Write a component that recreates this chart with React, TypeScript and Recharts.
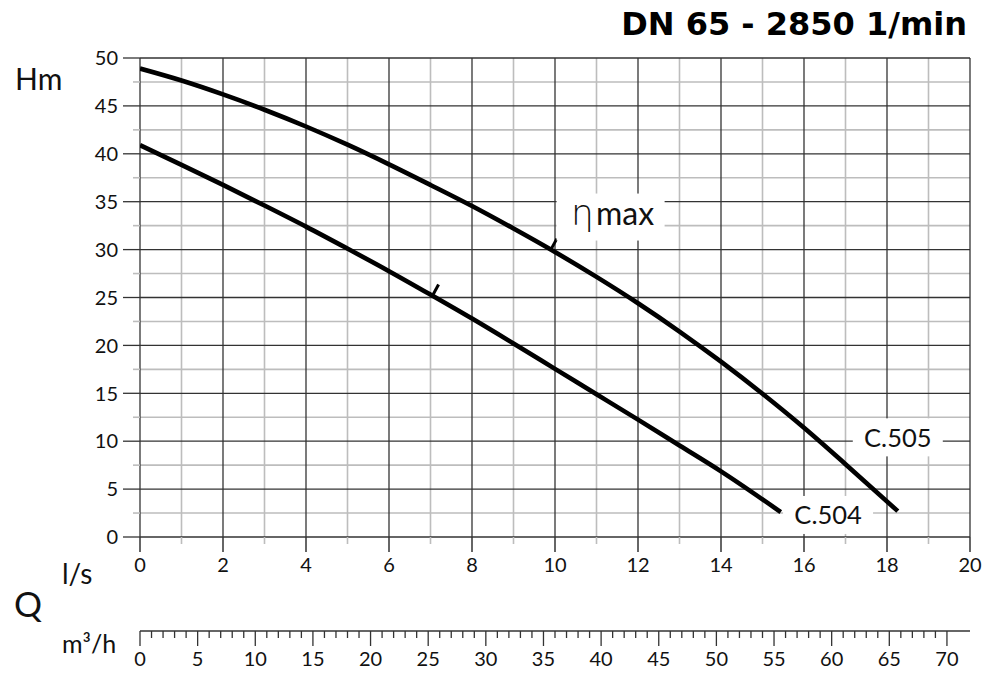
import React from 'react';
import { ComposedChart, Line, Scatter, XAxis, YAxis, CartesianGrid } from 'recharts';

// Q in l/s, H in m
const curveC505 = [
  { q: 0, h: 48.9 },
  { q: 1, h: 47.65 },
  { q: 2, h: 46.2 },
  { q: 3, h: 44.6 },
  { q: 4, h: 42.85 },
  { q: 5, h: 40.95 },
  { q: 6, h: 38.9 },
  { q: 7, h: 36.75 },
  { q: 8, h: 34.55 },
  { q: 9, h: 32.2 },
  { q: 10, h: 29.75 },
  { q: 11, h: 27.15 },
  { q: 12, h: 24.4 },
  { q: 13, h: 21.45 },
  { q: 14, h: 18.3 },
  { q: 15, h: 14.95 },
  { q: 16, h: 11.4 },
  { q: 17, h: 7.6 },
  { q: 18.26, h: 2.7 },
];

const curveC504 = [
  { q: 0, h: 40.9 },
  { q: 1, h: 38.85 },
  { q: 2, h: 36.75 },
  { q: 3, h: 34.6 },
  { q: 4, h: 32.4 },
  { q: 5, h: 30.1 },
  { q: 6, h: 27.75 },
  { q: 7, h: 25.3 },
  { q: 8, h: 22.8 },
  { q: 9, h: 20.2 },
  { q: 10, h: 17.55 },
  { q: 11, h: 14.9 },
  { q: 12, h: 12.25 },
  { q: 13, h: 9.55 },
  { q: 14, h: 6.85 },
  { q: 15.44, h: 2.6 },
];

// best efficiency marks on the two curves
const etaMaxPoints = [
  { q: 9.9, h: 30.0 },
  { q: 7.05, h: 25.2 },
];

// where the curve names sit (centre of their white box)
const curveLabels = [
  { q: 18.26, h: 10.4, name: 'C.505' },
  { q: 16.58, h: 2.3, name: 'C.504' },
  { q: 11.34, h: 33.45, name: 'ηmax' },
];

const headMajor = [0, 5, 10, 15, 20, 25, 30, 35, 40, 45, 50];
const headMinor = [2.5, 7.5, 12.5, 17.5, 22.5, 27.5, 32.5, 37.5, 42.5, 47.5];
const headTicks = [0, 2.5, 5, 7.5, 10, 12.5, 15, 17.5, 20, 22.5, 25, 27.5, 30, 32.5, 35, 37.5, 40, 42.5, 45, 47.5, 50];

const flowMajor = [0, 2, 4, 6, 8, 10, 12, 14, 16, 18, 20];
const flowMinor = [1, 3, 5, 7, 9, 11, 13, 15, 17, 19];
const flowTicks = [0, 1, 2, 3, 4, 5, 6, 7, 8, 9, 10, 11, 12, 13, 14, 15, 16, 17, 18, 19, 20];

// m3/h scale: one tick per m3/h, labelled every 5
const flowM3hTicks = Array.from({ length: 71 }, (_, i) => i);
const LS_TO_M3H = 3.6;

const DARK = '#333';
const LIGHT = '#bdbdbd';
const FONT = 'Lato, "DejaVu Sans", sans-serif';
const TICK_SIZE = 15;
const TICK_MARGIN = 6;

const HeadTick = ({ x, y, payload }: any) => {
  const major = payload.value % 5 === 0;
  const right = x + 5 + 17;
  return (
    <g>
      <line x1={major ? right - 17 : right - 7} x2={right} y1={y} y2={y} stroke={major ? DARK : LIGHT} strokeWidth={major ? 1.3 : 1.6} />
      {major && (
        <text x={x} y={y} dy="0.36em" textAnchor="end" fontSize={20} fontFamily={FONT} fill="#111">
          {payload.value}
        </text>
      )}
    </g>
  );
};

const FlowTick = ({ x, y, payload }: any) => {
  const major = payload.value % 2 === 0;
  const top = y - TICK_MARGIN - TICK_SIZE;
  return (
    <g>
      <line x1={x} x2={x} y1={top} y2={top + (major ? 15 : 7)} stroke={major ? DARK : LIGHT} strokeWidth={major ? 1.5 : 1.6} />
      {major && (
        <text x={x} y={y} dy="0.72em" textAnchor="middle" fontSize={20} fontFamily={FONT} fill="#111">
          {payload.value}
        </text>
      )}
    </g>
  );
};

const FlowM3hTick = ({ x, y, payload }: any) => {
  const major = payload.value % 5 === 0;
  const top = y - TICK_MARGIN - TICK_SIZE;
  return (
    <g>
      <line x1={x} x2={x} y1={top} y2={top + (major ? 15 : 7)} stroke={DARK} strokeWidth={1.3} />
      {major && (
        <text x={x} y={y} dy="0.72em" textAnchor="middle" fontSize={20} fontFamily={FONT} fill="#111">
          {payload.value}
        </text>
      )}
    </g>
  );
};

const EtaMark = ({ cx, cy }: any) => (
  <line x1={cx} y1={cy} x2={cx + 6} y2={cy - 11} stroke="#000" strokeWidth={3} />
);

const CurveLabel = ({ cx, cy, payload }: any) => {
  if (payload.name === 'ηmax') {
    return (
      <g>
        <rect x={cx - 54} y={cy - 23} width={108} height={47} fill="#fff" />
        <text x={cx + 2} y={cy + 8.5} textAnchor="middle" fill="#111">
          <tspan fontSize={36} fontFamily='"DejaVu Sans", sans-serif' fontWeight={300}>η</tspan>
          <tspan fontSize={32} fontFamily={FONT} dx={2}>max</tspan>
        </text>
      </g>
    );
  }
  return (
    <g>
      <rect x={cx - 45} y={cy - 19} width={90} height={38} fill="#fff" />
      <text x={cx} y={cy} dy="0.36em" textAnchor="middle" fontSize={25.5} fontFamily={FONT} fill="#111">
        {payload.name}
      </text>
    </g>
  );
};

export default function App() {
  return (
    <div style={{ position: 'absolute', left: 0, top: 0, width: 982, height: 673, background: '#fff' }}>
      <ComposedChart width={982} height={673} margin={{ top: 58, right: 12, bottom: 0, left: 0 }}>
        <CartesianGrid
          horizontalValues={headMinor}
          verticalValues={flowMinor}
          stroke={LIGHT}
          strokeWidth={1.6}
        />
        <CartesianGrid
          horizontalValues={headMajor}
          verticalValues={flowMajor}
          stroke={DARK}
          strokeWidth={1.3}
        />
        <XAxis
          dataKey="q"
          type="number"
          domain={[0, 20]}
          ticks={flowTicks}
          interval={0}
          height={94}
          axisLine={false}
          tickLine={false}
          tickSize={TICK_SIZE}
          tickMargin={TICK_MARGIN}
          tick={<FlowTick />}
          allowDataOverflow
        />
        <XAxis
          xAxisId="m3h"
          dataKey={(d: any) => d.q * LS_TO_M3H}
          type="number"
          domain={[0, 72]}
          ticks={flowM3hTicks}
          interval={0}
          height={42}
          axisLine={{ stroke: DARK, strokeWidth: 1.3 }}
          tickLine={false}
          tickSize={TICK_SIZE}
          tickMargin={TICK_MARGIN}
          tick={<FlowM3hTick />}
          allowDataOverflow
        />
        <YAxis
          dataKey="h"
          type="number"
          domain={[0, 50]}
          ticks={headTicks}
          interval={0}
          width={140}
          axisLine={false}
          tickLine={false}
          tickSize={17}
          tickMargin={5}
          tick={<HeadTick />}
          allowDataOverflow
        />
        {/* carries the m3/h scale, draws nothing */}
        <Line xAxisId="m3h" data={curveC505} dataKey="h" stroke="none" dot={false} activeDot={false} isAnimationActive={false} />
        <Line data={curveC505} dataKey="h" type="monotone" stroke="#000" strokeWidth={4.6} dot={false} activeDot={false} isAnimationActive={false} />
        <Line data={curveC504} dataKey="h" type="monotone" stroke="#000" strokeWidth={4.6} dot={false} activeDot={false} isAnimationActive={false} />
        <Scatter data={etaMaxPoints} dataKey="h" shape={<EtaMark />} isAnimationActive={false} />
        <Scatter data={curveLabels} dataKey="h" shape={<CurveLabel />} isAnimationActive={false} />
        <text x={967} y={35} textAnchor="end" fontSize={32} fontWeight="bold" fontFamily='"DejaVu Sans", sans-serif' fill="#000">
          DN 65 - 2850 1/min
        </text>
        <text x={15} y={90} fontSize={30} fontFamily={FONT} fill="#111">Hm</text>
        <text x={62} y={584} fontSize={28} fontFamily={FONT} fill="#111">l/s</text>
        <text x={14} y={617} fontSize={35} fontFamily={FONT} fill="#111">Q</text>
        <text x={62} y={653} fontSize={25} fontFamily={FONT} fill="#111">m³/h</text>
      </ComposedChart>
    </div>
  );
}
